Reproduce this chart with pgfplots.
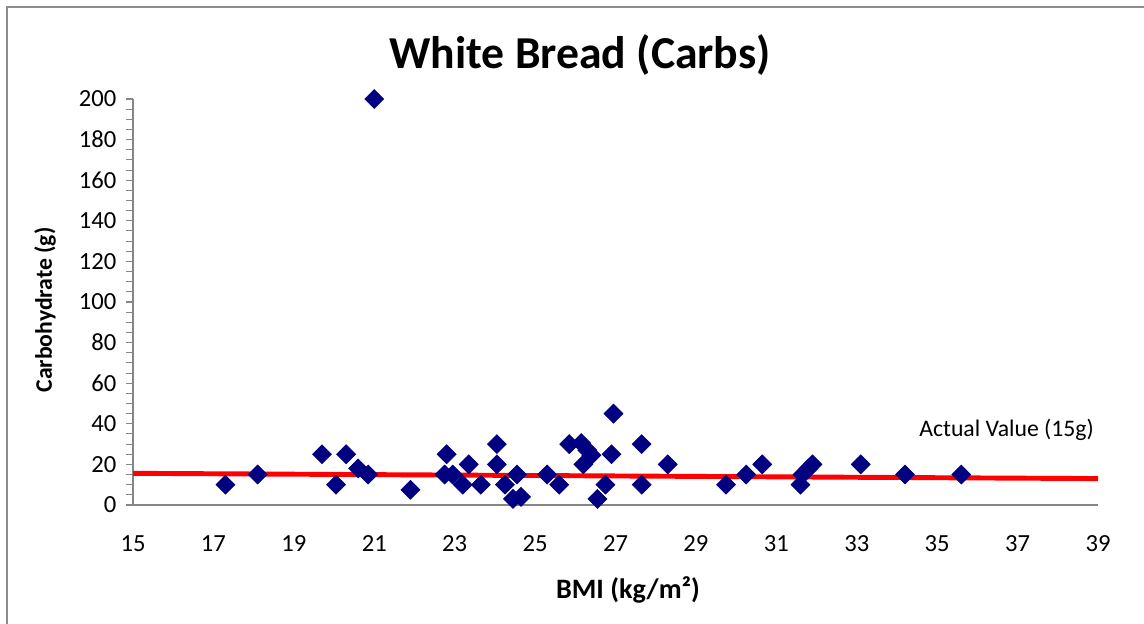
\documentclass[border=0pt]{standalone}
\usepackage{fontspec}
\setmainfont{Carlito}
\usepackage{pgfplots}
\pgfplotsset{compat=1.18}
\definecolor{dotnavy}{RGB}{0,0,128}
\definecolor{axgray}{RGB}{134,134,134}
\definecolor{framegray}{RGB}{140,140,140}

\begin{document}
\begin{tikzpicture}
\begin{axis}[
  at={(0,0)}, anchor=south west,
  scale only axis,
  width=19.3cm, height=8.12cm,
  xmin=15, xmax=39,
  ymin=0, ymax=200,
  xtick={15,17,...,39},
  ytick={0,20,...,200},
  minor y tick num=3,
  axis lines*=left,
  axis line style={axgray, line width=0.8pt},
  x tick style={draw=none},
  y tick style={axgray, line width=0.6pt},
  tick align=outside,
  major tick length=0.13cm,
  minor tick length=0.13cm,
  xticklabel style={yshift=-0.35cm},
  yticklabel style={xshift=-0.08cm},
  tick label style={font=\fontsize{14}{16}\selectfont},
  /pgf/number format/assume math mode=true,
  clip=false,
]
% measurements
\addplot[only marks, mark=square*, mark size=3.8pt,
  mark options={rotate=45, fill=dotnavy, draw=dotnavy}]
  coordinates {
  (17.3,10) (18.1,15) (19.7,25) (20.05,10) (20.3,25) (20.6,18) (20.85,15)
  (21.0,200) (21.9,7.5) (22.8,25) (22.75,15) (22.95,15) (23.2,10) (23.35,20)
  (23.65,10) (24.05,30) (24.05,20) (24.25,10) (24.45,3) (24.55,15) (24.65,4)
  (25.3,15) (25.6,10) (25.85,30) (26.15,30.5) (26.3,27) (26.4,24.5) (26.2,20)
  (26.95,45) (26.9,25) (26.75,10) (26.55,3) (27.65,30) (27.65,10) (28.3,20)
  (29.75,10) (30.25,15) (30.65,20) (31.6,10) (31.65,15) (31.8,18) (31.9,20)
  (33.1,20) (34.2,15) (35.6,15)
  };
% actual value line
\addplot[red, line width=2.8pt] coordinates {(15,15.6) (39,13.0)};
\node[anchor=east, font=\fontsize{13.5}{15}\selectfont] at (axis cs:39.05,37) {Actual Value (15g)};
\end{axis}
\node[font=\bfseries\fontsize{26}{30}\selectfont] at (8.94,9.0) {White Bread (Carbs)};
\node[font=\bfseries\fontsize{16}{18}\selectfont] at (9.9,-1.7) {BMI (kg/m²)};
\node[font=\bfseries\fontsize{13.5}{16}\selectfont, rotate=90] at (-1.76,3.9) {Carbohydrate (g)};
\draw[framegray, line width=0.8pt] (-2.52,-3) -- (-2.52,9.96) -- (21,9.96);
\pgfresetboundingbox
\path[use as bounding box] (-2.66,-2.38) rectangle (20.22,10.1);
\end{tikzpicture}
\end{document}
